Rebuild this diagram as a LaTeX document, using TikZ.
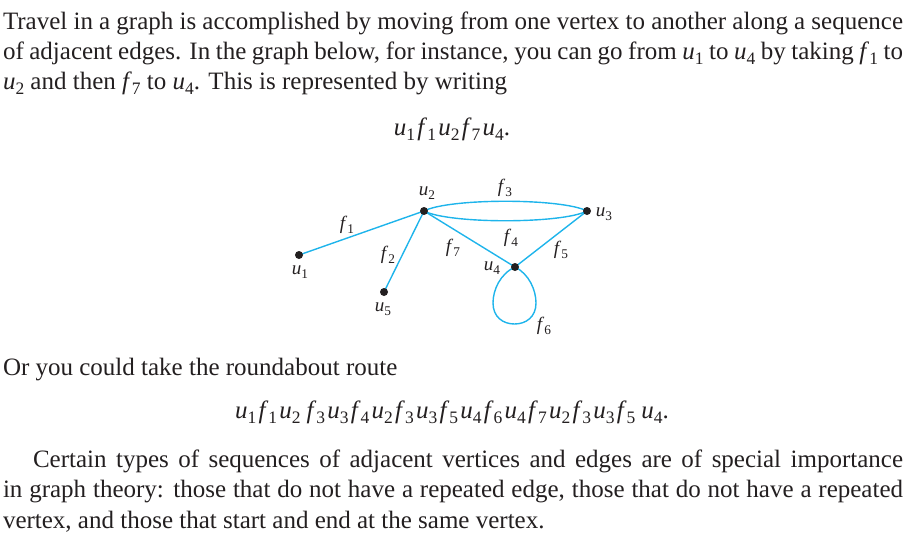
\documentclass[tikz,border=0pt]{standalone}
\usepackage{fontspec}
\setmainfont{Liberation Serif}
\usetikzlibrary{backgrounds}
\definecolor{edgecol}{RGB}{30,180,235}
\definecolor{ink}{RGB}{35,31,32}
\newcommand\sv[2]{\textit{#1}\raisebox{-0.22em}{\scalebox{0.7}{#2}}}
\newcommand\sq[2]{\textit{#1}\raisebox{-0.22em}{\scalebox{0.7}{#2}}\kern0.09em}
\begin{document}
\begin{tikzpicture}[x=1pt,y=-1pt,
  every node/.style={inner sep=0pt,outer sep=0pt,text=ink},
  txt/.style={anchor=base west,font=\fontsize{25}{30}\selectfont},
  formula/.style={anchor=base,font=\fontsize{25}{30}\selectfont},
  dot/.style={circle,fill=ink,minimum size=8pt},
  edge/.style={draw=edgecol,line width=1.4pt},
  lab/.style={font=\fontsize{19}{19}\selectfont}]
\useasboundingbox (0,0) rectangle (907,547);

% top paragraph
\node[txt] (l1) at (3,29) {\makebox[900pt][s]{Travel in a graph is accomplished by moving from one vertex to another along a sequence}};
\node[txt] (l2) at (3,59) {\makebox[900pt][s]{of adjacent edges. In the graph below, for instance, you can go from \sv{u}{1} to \sv{u}{4} by taking \sv{f}{1} to}};
\node[txt] (l3) at (3,89) {\sv{u}{2} and then \sv{f}{7} to \sv{u}{4}. This is represented by writing};
\node[formula] (eq1) at (452,135) {\sq{u}{1}\sq{f}{1}\sq{u}{2}\sq{f}{7}\sv{u}{4}.};

% graph
\node[dot] (u1) at (299,255) {};
\node[dot] (u2) at (424,211) {};
\node[dot] (u3) at (587,211) {};
\node[dot] (u4) at (515,267) {};
\node[dot] (u5) at (384,292) {};
\begin{scope}[on background layer]
\draw[edge] (u1.center) -- (u2.center);
\draw[edge] (u2.center) -- (u5.center);
\draw[edge] (u2.center) .. controls +(25,-13) and +(-25,-13) .. (u3.center);
\draw[edge] (u2.center) .. controls +(25,13) and +(-25,13) .. (u3.center);
\draw[edge] (u2.center) -- (u4.center);
\draw[edge] (u3.center) -- (u4.center);
\draw[edge] (u4.center) .. controls (500,274) and (493,290) .. (493,303)
  .. controls (493,317) and (503,324) .. (514.5,324)
  .. controls (526,324) and (536,317) .. (536,303)
  .. controls (536,290) and (529,274) .. (u4.center);
\end{scope}
\node[lab] (lu1) at (300,272) {\sv{u}{1}};
\node[lab] (lu2) at (427,193) {\sv{u}{2}};
\node[lab] (lu3) at (604,214) {\sv{u}{3}};
\node[lab] (lu4) at (492,268) {\sv{u}{4}};
\node[lab] (lu5) at (383,309) {\sv{u}{5}};
\node[lab] (lf1) at (347,225) {\sv{f}{1}};
\node[lab] (lf2) at (388,255) {\sv{f}{2}};
\node[lab] (lf3) at (505,188) {\sv{f}{3}};
\node[lab] (lf4) at (511,238) {\sv{f}{4}};
\node[lab] (lf5) at (561,250) {\sv{f}{5}};
\node[lab] (lf6) at (544,326) {\sv{f}{6}};
\node[lab] (lf7) at (453,248) {\sv{f}{7}};

% bottom
\node[txt] (l4) at (3,375) {Or you could take the roundabout route};
\node[txt] (eq2) at (235,418) {\sq{u}{1}\sq{f}{1}\sq{u}{2}\kern0.15em\sq{f}{3}\sq{u}{3}\sq{f}{4}\sq{u}{2}\sq{f}{3}\sq{u}{3}\sq{f}{5}\sq{u}{4}\sq{f}{6}\sq{u}{4}\sq{f}{7}\sq{u}{2}\sq{f}{3}\sq{u}{3}\sq{f}{5}\kern0.15em\sv{u}{4}.};
\node[txt] (l5) at (33,467) {\makebox[870pt][s]{Certain types of sequences of adjacent vertices and edges are of special importance}};
\node[txt] (l6) at (3,497) {\makebox[900pt][s]{in graph theory: those that do not have a repeated edge, those that do not have a repeated}};
\node[txt] (l7) at (3,528) {vertex, and those that start and end at the same vertex.};
\end{tikzpicture}
\end{document}
